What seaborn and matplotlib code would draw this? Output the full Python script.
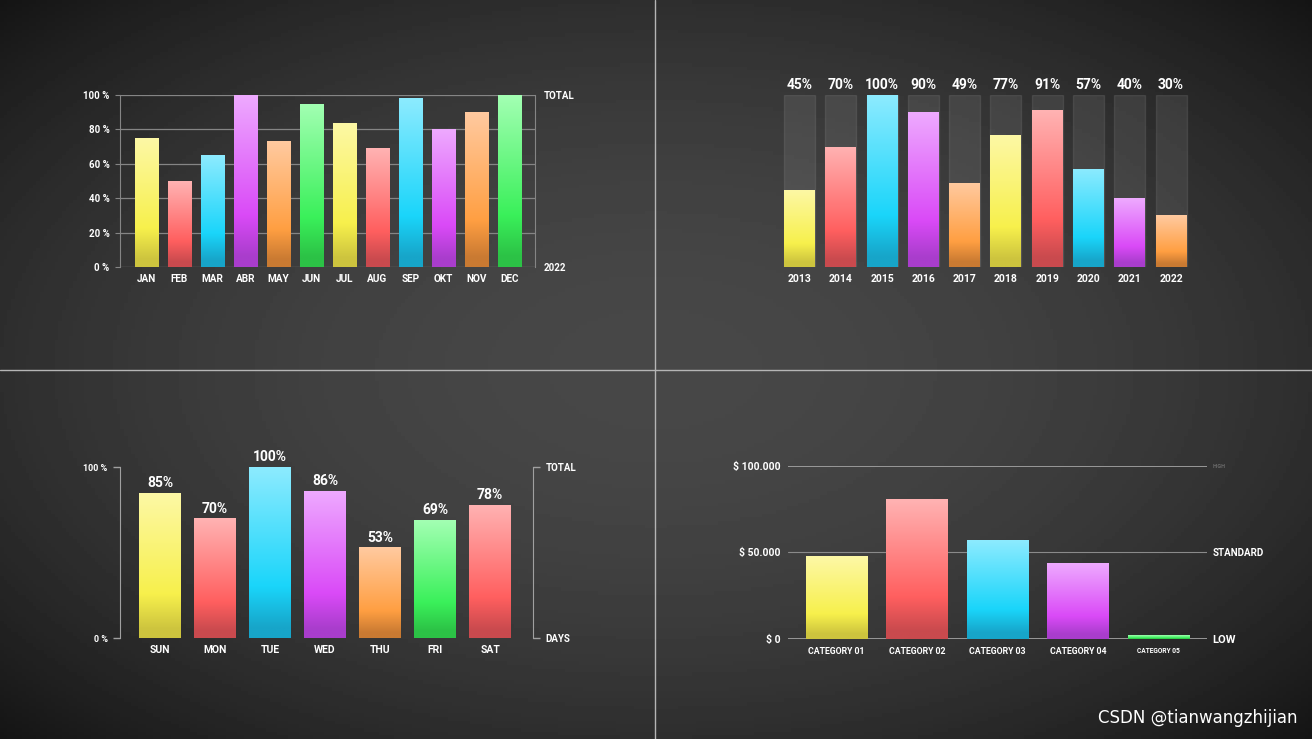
import numpy as np
import seaborn as sns
import matplotlib.pyplot as plt
from matplotlib.colors import LinearSegmentedColormap
from matplotlib.lines import Line2D

# ---- data ----
months = ['JAN', 'FEB', 'MAR', 'ABR', 'MAY', 'JUN', 'JUL', 'AUG', 'SEP', 'OKT', 'NOV', 'DEC']
month_values = [75, 50, 65, 100, 73, 95, 84, 69, 98, 80, 90, 100]
month_colors = ['yellow', 'red', 'cyan', 'purple', 'orange', 'green'] * 2

years = ['2013', '2014', '2015', '2016', '2017', '2018', '2019', '2020', '2021', '2022']
year_values = [45, 70, 100, 90, 49, 77, 91, 57, 40, 30]
year_colors = ['yellow', 'red', 'cyan', 'purple', 'orange'] * 2
full_scale = 100

days = ['SUN', 'MON', 'TUE', 'WED', 'THU', 'FRI', 'SAT']
day_values = [85, 70, 100, 86, 53, 69, 78]
day_colors = ['yellow', 'red', 'cyan', 'purple', 'orange', 'green', 'red']

categories = ['CATEGORY 01', 'CATEGORY 02', 'CATEGORY 03', 'CATEGORY 04', 'CATEGORY 05']
category_values = [48000, 81000, 57000, 44000, 2000]
category_colors = ['yellow', 'red', 'cyan', 'purple', 'green']

# dark / saturated / light stops for each bar colour
shades = {
    'yellow': ('#cdc43e', '#f7f04c', '#fdf8a6'),
    'red': ('#c94a4e', '#ff5f5f', '#ffb3b3'),
    'cyan': ('#17a5c9', '#1ad5fa', '#8debff'),
    'purple': ('#a93dcc', '#da4af7', '#eeaaff'),
    'orange': ('#c97a32', '#ff9f42', '#ffcaa0'),
    'green': ('#2cc246', '#3af05a', '#a3ffb3'),
}

W, H = 1312, 739
grid_col = '#858585'

sns.set_style('dark')
plt.rcParams['font.family'] = ['Roboto', 'DejaVu Sans']
plt.rcParams['font.weight'] = 'bold'

fig = plt.figure(figsize=(W / 100, H / 100), dpi=100)

# blurred dark backdrop
bg = fig.add_axes([0, 0, 1, 1], zorder=-10)
yy, xx = np.mgrid[-1:1:200j, -1:1:360j]
bg.imshow(0.28 - 0.10 * (xx ** 2 + yy ** 2), cmap='gray', vmin=0, vmax=1, aspect='auto')
bg.axis('off')


def box(left, right, top, bottom):
    return [left / W, 1 - bottom / H, (right - left) / W, (bottom - top) / H]


def paint(ax, patches, names):
    grad = np.linspace(0, 1, 256).reshape(-1, 1)
    xlim, ylim = ax.get_xlim(), ax.get_ylim()
    for patch, name in zip(patches, names):
        dark, sat, light = shades[name]
        cmap = LinearSegmentedColormap.from_list(
            name, [(0, dark), (0.06, dark), (0.3, sat), (1, light)])
        x0, y0 = patch.get_x(), patch.get_y()
        w, h = patch.get_width(), patch.get_height()
        im = ax.imshow(grad, cmap=cmap, origin='lower', aspect='auto',
                       extent=[x0, x0 + w, y0, y0 + h], zorder=2)
        im.set_clip_path(patch)
        patch.set_facecolor('none')
        patch.set_edgecolor('none')
    ax.set_xlim(xlim)
    ax.set_ylim(ylim)


def pal(names, colors):
    return {n: shades[c][1] for n, c in zip(names, colors)}


def clean(ax):
    ax.set_facecolor('none')
    ax.set_xlabel('')
    ax.set_ylabel('')
    for s in ax.spines.values():
        s.set_visible(False)


# ---- panel 1: months ----
ax1 = fig.add_axes(box(120, 535, 95, 267))
sns.barplot(x=months, y=month_values, hue=months, palette=pal(months, month_colors),
            legend=False, width=0.7, saturation=1, errorbar=None, ax=ax1)
clean(ax1)
ax1.set_xlim(-0.8, 11.77)
ax1.set_ylim(0, 100)
paint(ax1, ax1.patches, month_colors)
ax1.set_yticks(range(0, 101, 20), [f'{v} %' for v in range(0, 101, 20)])
ax1.yaxis.grid(True, color=grid_col, lw=0.9)
ax1.xaxis.grid(False)
ax1.set_axisbelow(True)
for side in ['left', 'right']:
    ax1.spines[side].set_visible(True)
    ax1.spines[side].set_color(grid_col)
ax1.tick_params(axis='y', length=3.5, color=grid_col, labelcolor='white', labelsize=7, pad=4)
ax1.tick_params(axis='x', length=0, labelcolor='white', labelsize=7.2, pad=5)
ax1r = ax1.twinx()
clean(ax1r)
ax1r.set_ylim(0, 100)
ax1r.set_yticks([0, 100], ['2022', 'TOTAL'])
ax1r.tick_params(axis='y', length=0, labelcolor='white', labelsize=7, pad=6)
ax1r.grid(False)

# ---- panel 2: years ----
ax2 = fig.add_axes(box(774.7, 1195.8, 95, 267))
sns.barplot(x=years, y=[full_scale] * len(years), color='white', alpha=0.085,
            width=0.75, saturation=1, errorbar=None, ax=ax2)
n_track = len(ax2.patches)
sns.barplot(x=years, y=year_values, hue=years, palette=pal(years, year_colors),
            legend=False, width=0.75, saturation=1, errorbar=None, ax=ax2)
clean(ax2)
ax2.set_xlim(-0.6, 9.6)
ax2.set_ylim(0, 100)
paint(ax2, ax2.patches[n_track:], year_colors)
ax2.set_yticks([])
ax2.grid(False)
ax2.tick_params(axis='x', length=0, labelcolor='white', labelsize=7.5, pad=5)
for i, v in enumerate(year_values):
    ax2.annotate(f'{v}%', (i, full_scale), xytext=(0, 4.2), textcoords='offset points',
                 ha='center', va='baseline', color='white', fontsize=10)

# ---- panel 3: days ----
ax3 = fig.add_axes(box(120, 533, 467, 638))
sns.barplot(x=days, y=day_values, hue=days, palette=pal(days, day_colors),
            legend=False, width=0.75, saturation=1, errorbar=None, ax=ax3)
clean(ax3)
ax3.set_xlim(-0.727, 6.78)
ax3.set_ylim(0, 100)
paint(ax3, ax3.patches, day_colors)
ax3.grid(False)
ax3.spines['left'].set_visible(True)
ax3.spines['left'].set_color('#a0a0a0')
ax3.set_yticks([0, 100], ['0 %', '100 %'])
ax3.tick_params(axis='y', length=5, width=1, color='#a0a0a0', labelcolor='white', labelsize=6.5, pad=4)
ax3.tick_params(axis='x', length=0, labelcolor='white', labelsize=7.5, pad=5)
for i, v in enumerate(day_values):
    ax3.annotate(f'{v}%', (i, v), xytext=(0, 4), textcoords='offset points',
                 ha='center', va='baseline', color='white', fontsize=10)
ax3r = ax3.twinx()
clean(ax3r)
ax3r.spines['right'].set_visible(True)
ax3r.spines['right'].set_color('#a0a0a0')
ax3r.set_ylim(0, 100)
ax3r.set_yticks([0, 100], ['DAYS', 'TOTAL'])
ax3r.tick_params(axis='y', length=5, width=1, color='#a0a0a0', labelcolor='white', labelsize=7, pad=4)
ax3r.grid(False)

# ---- panel 4: categories ----
ax4 = fig.add_axes(box(787.7, 1206.7, 466, 638.7))
sns.barplot(x=categories, y=category_values, hue=categories,
            palette=pal(categories, category_colors), legend=False, width=0.765,
            saturation=1, errorbar=None, ax=ax4)
clean(ax4)
ax4.set_xlim(-0.609, 4.6)
ax4.set_ylim(0, 100000)
paint(ax4, ax4.patches, category_colors)
ax4.set_yticks([0, 50000, 100000], ['$ 0', '$ 50.000', '$ 100.000'])
ax4.yaxis.grid(True, color='#a0a0a0', lw=1.3)
ax4.xaxis.grid(False)
ax4.set_axisbelow(True)
ax4.get_ygridlines()[1].set_linewidth(0.8)
ax4.get_ygridlines()[1].set_color('#8a8a8a')
ax4.tick_params(axis='y', length=0, labelcolor='white', labelsize=7.5, pad=5)
ax4.tick_params(axis='x', length=0, labelcolor='white', labelsize=6.3, pad=6)
ax4.get_xticklabels()[-1].set_fontsize(4.8)
ax4r = ax4.twinx()
clean(ax4r)
ax4r.set_ylim(0, 100000)
ax4r.set_yticks([0, 50000, 100000], ['LOW', 'STANDARD', 'HIGH'])
ax4r.tick_params(axis='y', length=0, labelcolor='white', labelsize=8, pad=4)
ax4r.get_yticklabels()[1].set_fontsize(7)
ax4r.get_yticklabels()[2].set_fontsize(4)
ax4r.get_yticklabels()[2].set_color('#6a6a6a')
ax4r.grid(False)

# ---- quadrant dividers ----
fig.add_artist(Line2D([655 / W, 655 / W], [0, 1], color='#b5b5b5', lw=1))
fig.add_artist(Line2D([0, 1], [1 - 370 / H, 1 - 370 / H], color='#b5b5b5', lw=1))

fig.text(1297 / W, 1 - 718 / H, 'CSDN @tianwangzhijian', ha='right', va='center',
         color='white', fontsize=12, fontweight='normal', family=['DejaVu Sans'])

fig.savefig('out.png', dpi=100)
